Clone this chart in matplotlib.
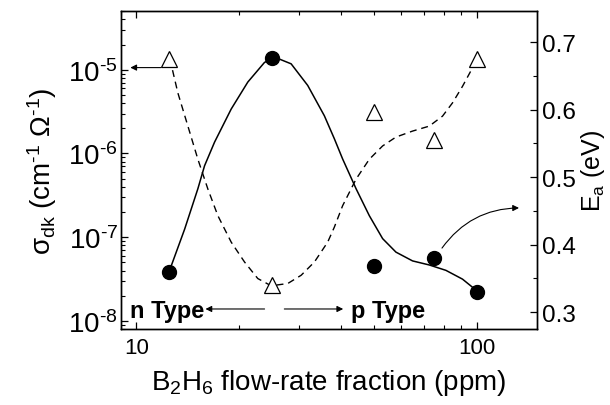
import numpy as np
import matplotlib
matplotlib.use("Agg")
import matplotlib.pyplot as plt
from matplotlib.ticker import FuncFormatter, NullFormatter, LogLocator, MultipleLocator

plt.rcParams['font.family'] = ['Liberation Sans', 'DejaVu Sans']
plt.rcParams['mathtext.fontset'] = 'custom'
plt.rcParams['mathtext.rm'] = 'Liberation Sans'
plt.rcParams['mathtext.it'] = 'Liberation Sans:italic'
plt.rcParams['mathtext.bf'] = 'Liberation Sans:bold'

HY = '\u2010'  # plain hyphen, the figure uses it instead of a minus sign

# measured points
flow = [12.5, 25, 50, 75, 100]
sigma_dk = [1.35e-5, 2.67e-8, 3.17e-6, 1.43e-6, 1.34e-5]   # triangles, left axis
e_a = [0.359, 0.677, 0.369, 0.380, 0.330]                   # circles, right axis

# guide curves
sig_curve_x = [12.5, 12.66, 13.24, 14.17, 15.16, 16.22, 17.35, 18.99, 20.78,
               22.73, 24.88, 27.84, 30.47, 33.34, 36.47, 38.15, 40.35, 44.18,
               48.33, 52.88, 57.87, 64.74, 72.46, 79.28, 84.83, 90.75, 97.08,
               99.3]
sig_curve_y = [1.35e-5, 1.15e-5, 5.29e-6, 2.12e-6, 8.53e-7, 3.76e-7, 1.81e-7,
               8.74e-8, 5.06e-8, 3.21e-8, 2.63e-8, 2.80e-8, 3.51e-8, 5.06e-8,
               8.74e-8, 1.32e-7, 2.38e-7, 4.94e-7, 8.53e-7, 1.23e-6, 1.57e-6,
               1.85e-6, 2.12e-6, 2.79e-6, 4.02e-6, 6.33e-6, 1.05e-5, 1.25e-5]
ea_curve_x = [12.52, 13.86, 15.16, 15.86, 16.97, 18.99, 21.25, 23.78, 25.44,
              28.48, 31.86, 35.66, 38.15, 40.35, 44.18, 48.33, 52.88, 57.87,
              64.74, 72.46, 81.13, 90.75, 99.3]
ea_curve_y = [0.362, 0.423, 0.483, 0.517, 0.552, 0.601, 0.641, 0.670, 0.678,
              0.668, 0.636, 0.591, 0.557, 0.527, 0.483, 0.443, 0.409, 0.389,
              0.376, 0.370, 0.362, 0.349, 0.333]

fig = plt.figure(figsize=(6.1, 4.06), dpi=100)
ax = fig.add_axes([0.198, 0.187, 0.682, 0.783])
ax2 = ax.twinx()

ax.plot(sig_curve_x, sig_curve_y, color='black', lw=1.0, dashes=(5, 3.5))
ax.plot(flow, sigma_dk, ls='none', marker='^', ms=11, mfc='white', mec='black', mew=0.9)
ax2.plot(ea_curve_x, ea_curve_y, color='black', lw=1.1)
ax2.plot(flow, e_a, ls='none', marker='o', ms=10, mfc='black', mec='black')

ax.set_xscale('log')
ax.set_yscale('log')
ax.set_xlim(9, 150)
ax.set_ylim(8e-9, 5e-5)
ax2.set_ylim(0.275, 0.746)

def exp_fmt(v, p):
    e = int(round(np.log10(v)))
    s = HY + str(-e) if e < 0 else str(e)
    return '10$^{' + s + '}$'

ax.xaxis.set_major_formatter(FuncFormatter(lambda v, p: '%g' % v))
ax.xaxis.set_minor_formatter(NullFormatter())
ax.yaxis.set_major_locator(LogLocator(base=10, numticks=10))
ax.yaxis.set_major_formatter(FuncFormatter(exp_fmt))
ax.yaxis.set_minor_locator(LogLocator(base=10, subs=np.arange(2, 10), numticks=20))
ax.yaxis.set_minor_formatter(NullFormatter())
ax2.yaxis.set_major_locator(MultipleLocator(0.1))
ax2.yaxis.set_minor_locator(MultipleLocator(0.05))

ax.tick_params(which='both', direction='in', top=True, right=False)
ax.tick_params(axis='x', labelsize=16, pad=6)
ax.tick_params(axis='y', labelsize=20, pad=2)
ax.tick_params(which='major', length=5, width=0.9)
ax.tick_params(which='minor', length=3, width=0.8)
ax2.tick_params(which='both', direction='in', labelsize=17.5, pad=4)
ax2.tick_params(which='major', length=5, width=0.9)
ax2.tick_params(which='minor', length=3, width=0.8)
for a in (ax, ax2):
    for s in a.spines.values():
        s.set_linewidth(1.0)

ax.set_xlabel('B$_2$H$_6$ flow-rate fraction (ppm)', fontsize=20, labelpad=6)
ax.set_ylabel('σ$_{\\mathrm{dk}}$ (cm$^{' + HY + '1}$ Ω$^{' + HY + '1}$)', fontsize=20, labelpad=7)
ax2.set_ylabel('E$_{\\mathrm{a}}$ (eV)', fontsize=18, labelpad=2)

arr = dict(arrowstyle='-|>', color='black', lw=0.8, mutation_scale=9, shrinkA=0, shrinkB=0)
ax.annotate('', xy=(9.6, 1.06e-5), xytext=(11.8, 1.06e-5), arrowprops=arr)
ax.annotate('', xy=(15.96, 1.39e-8), xytext=(23.8, 1.39e-8), arrowprops=arr)
ax.annotate('', xy=(40.5, 1.39e-8), xytext=(27.2, 1.39e-8), arrowprops=arr)
ax2.annotate('', xy=(133, 0.4545), xytext=(79, 0.395),
             arrowprops=dict(arr, connectionstyle='arc3,rad=-0.25'))
ax.text(9.56, 1.13e-8, 'n Type', fontsize=17, fontweight='bold', va='baseline', ha='left')
ax.text(42.7, 1.13e-8, 'p Type', fontsize=17, fontweight='bold', va='baseline', ha='left')

fig.savefig('out.png', dpi=100)
